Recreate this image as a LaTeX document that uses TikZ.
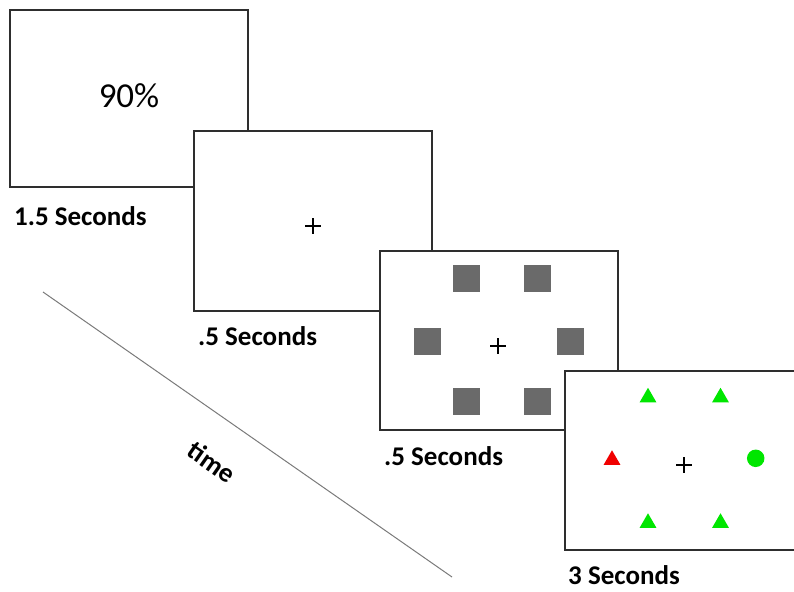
\documentclass[tikz,border=0pt]{standalone}
\usepackage{fontspec}
\setmainfont{Carlito}
\usetikzlibrary{shapes.geometric}
\definecolor{frame}{HTML}{2E2E2E}
\definecolor{placeholder}{HTML}{6A6A6A}
\definecolor{cuegreen}{RGB}{0,230,0}
\definecolor{cuered}{RGB}{240,0,0}
\definecolor{timeline}{HTML}{7A7A7A}
\tikzset{
  screen/.style={rectangle, draw=frame, line width=2pt, fill=white,
    minimum width=238pt, minimum height=179pt, inner sep=0pt},
  duration/.style={anchor=base west, inner sep=0pt,
    font=\bfseries\fontsize{27}{32}\selectfont},
  holder/.style={rectangle, fill=placeholder, minimum size=27pt, inner sep=0pt},
  tri/.style={regular polygon, regular polygon sides=3, minimum size=19.5pt,
    inner sep=0pt},
  dot/.style={circle, minimum size=17.5pt, inner sep=0pt},
  fixcross/.pic={\draw[line width=1.6pt, black] (-8,0) -- (8,0) (0,-8) -- (0,8);}
}
\begin{document}
\begin{tikzpicture}[x=1pt, y=-1pt]
\useasboundingbox (0,0) rectangle (794,591);
\clip (0,0) rectangle (794,591);

% time axis
\coordinate (t0) at (43,292);
\coordinate (t1) at (452,577);
\draw[timeline, line width=1pt] (t0) -- (t1);
\node[rotate=-35, inner sep=0pt, font=\bfseries\fontsize{27}{32}\selectfont]
  (timelabel) at (212,462) {time};

% screen 1: feedback
\node[screen, minimum height=177pt] (s1) at (129,98.5) {};
\node[anchor=base, inner sep=0pt, font=\fontsize{35}{42}\selectfont]
  (pct) at (129,108) {90\%};
\node[duration] (d1) at (14,225) {1.5 Seconds};

% screen 2: fixation
\node[screen, minimum height=180pt] (s2) at (313,221) {};
\pic at (313,226) {fixcross};
\node[duration] (d2) at (198,345) {.5 Seconds};

% screen 3: placeholders
\node[screen] (s3) at (499,340.5) {};
\node[holder] (p1) at (466,278.3) {};
\node[holder] (p2) at (537.3,278.3) {};
\node[holder] (p3) at (427.7,341) {};
\node[holder] (p4) at (570,341) {};
\node[holder] (p5) at (466,401.7) {};
\node[holder] (p6) at (537.3,401.7) {};
\pic at (498,346) {fixcross};
\node[duration] (d3) at (384,465) {.5 Seconds};

% screen 4: search display
\node[screen] (s4) at (684,460.5) {};
\node[tri, fill=cuegreen] (g1) at (648,397.5) {};
\node[tri, fill=cuegreen] (g2) at (720.5,397.5) {};
\node[tri, fill=cuered] (r1) at (612,460) {};
\node[dot, fill=cuegreen] (c1) at (755.7,458.3) {};
\node[tri, fill=cuegreen] (g3) at (648,523) {};
\node[tri, fill=cuegreen] (g4) at (720.5,523) {};
\pic at (684,465) {fixcross};
\node[duration] (d4) at (568,584) {3 Seconds};
\end{tikzpicture}
\end{document}
